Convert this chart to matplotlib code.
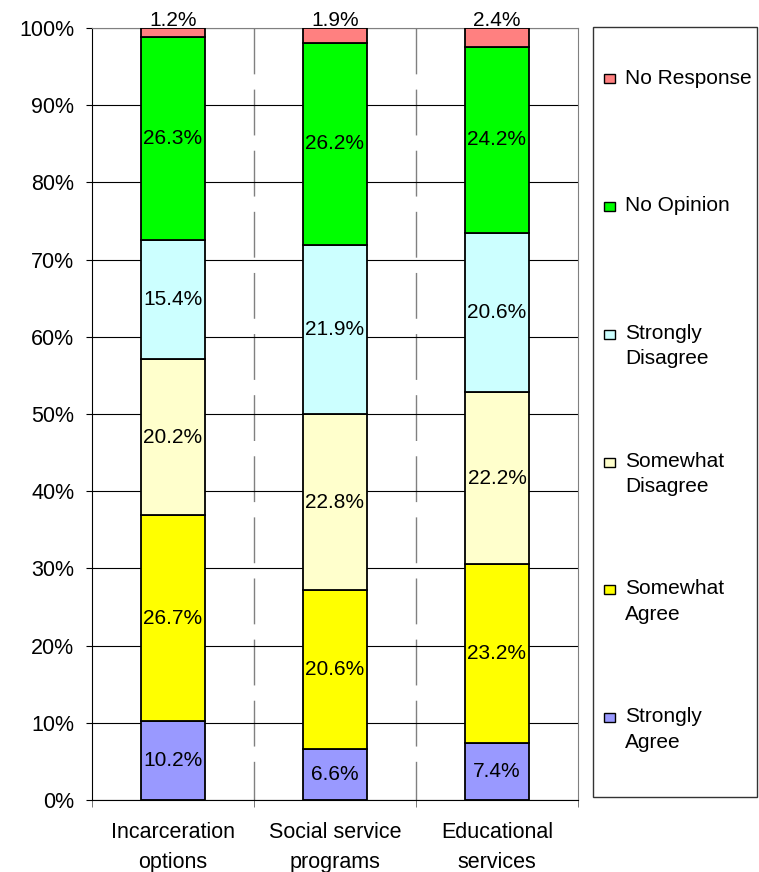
import numpy as np
import matplotlib.pyplot as plt
from matplotlib.patches import Rectangle
from matplotlib.ticker import PercentFormatter

plt.rcParams['font.family'] = ['Liberation Sans', 'DejaVu Sans']

categories = ['Incarceration\noptions', 'Social service\nprograms', 'Educational\nservices']
series_names = ['Strongly\nAgree', 'Somewhat\nAgree', 'Somewhat\nDisagree',
                'Strongly\nDisagree', 'No Opinion', 'No Response']
series_colors = ['#9999FF', '#FFFF00', '#FFFFCC', '#CCFFFF', '#00FF00', '#FF8080']

strongly_agree = [10.2, 6.6, 7.4]
somewhat_agree = [26.7, 20.6, 23.2]
somewhat_disagree = [20.2, 22.8, 22.2]
strongly_disagree = [15.4, 21.9, 20.6]
no_opinion = [26.3, 26.2, 24.2]
no_response = [1.2, 1.9, 2.4]

series_values = [strongly_agree, somewhat_agree, somewhat_disagree,
                 strongly_disagree, no_opinion, no_response]

W, H = 759, 872
fig = plt.figure(figsize=(W / 100, H / 100), dpi=100)
ax = fig.add_axes([92 / W, 1 - 800 / H, 486 / W, 772 / H])

x = np.arange(len(categories)) + 0.5
bottom = np.zeros(len(categories))
for i, (name, vals, col) in enumerate(zip(series_names, series_values, series_colors)):
    vals = np.array(vals)
    ax.bar(x, vals, width=0.395, bottom=bottom, color=col, edgecolor='black',
           linewidth=1.3, zorder=3)
    for xi, b, v in zip(x, bottom, vals):
        if i == len(series_values) - 1:
            # last series: label sits above the bar
            ax.text(xi, 100.3, '%.1f%%' % v, ha='center', va='baseline', fontsize=15)
        else:
            ax.text(xi, b + v / 2, '%.1f%%' % v, ha='center', va='center',
                    fontsize=15, zorder=4)
    bottom += vals

ax.set_xlim(0, 3)
ax.set_ylim(0, 100)
ax.set_yticks(np.arange(0, 101, 10))
ax.yaxis.set_major_formatter(PercentFormatter(decimals=0))
ax.yaxis.grid(True, color='black', linewidth=0.8, zorder=0)
for xs in [1, 2]:
    ax.plot([xs, xs], [100, 0], color='#808080', linewidth=1.0,
            linestyle=(0, (33, 11)), zorder=1)

ax.set_xticks(x)
ax.set_xticklabels(categories, fontsize=15.5, linespacing=1.55)
ax.set_xticks([0, 1, 2, 3], minor=True)
ax.tick_params(axis='x', which='major', length=0, pad=16)
ax.tick_params(axis='x', which='minor', length=5, direction='out', color='#606060')
ax.tick_params(axis='y', length=4.3, labelsize=15.5, pad=8.5)

for s in ['top', 'right']:
    ax.spines[s].set_color('#808080')
for s in ['left', 'bottom']:
    ax.spines[s].set_color('black')

# legend box drawn on the right
def fx(px):
    return px / W

def fy(py):
    return 1 - py / H

fig.add_artist(Rectangle((fx(593), fy(797)), fx(757) - fx(593), fy(27) - fy(797),
                         transform=fig.transFigure, facecolor='white',
                         edgecolor='#333333', linewidth=1.0))
base_y = 83.5
for name, col in zip(series_names[::-1], series_colors[::-1]):
    mid = base_y - 4.5
    fig.add_artist(Rectangle((fx(604), fy(mid + 4.5)), fx(615) - fx(604), fy(mid - 4.5) - fy(mid + 4.5),
                             transform=fig.transFigure, facecolor=col,
                             edgecolor='black', linewidth=1.0))
    fig.text(fx(625), fy(base_y), name.split('\n')[0], ha='left', va='baseline', fontsize=15)
    if '\n' in name:
        fig.text(fx(625), fy(base_y + 25.5), name.split('\n')[1], ha='left',
                 va='baseline', fontsize=15)
    base_y += 127.7

fig.savefig('out.png', dpi=100)
